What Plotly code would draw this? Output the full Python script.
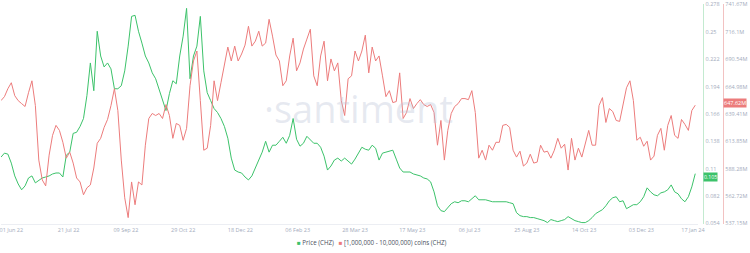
import plotly.graph_objects as go
import pandas as pd

# ---------------- data ----------------
start_date = "2022-05-23"
n_points = 203
dates = pd.date_range(start_date, periods=n_points, freq="3D")

price_chz = [
    0.1219, 0.1260, 0.1250, 0.1158, 0.1027, 0.0945, 0.0885, 0.0925, 0.1006, 0.1027,
    0.0956, 0.0986, 0.1006, 0.1016, 0.1027, 0.1047, 0.1057, 0.1057, 0.1016, 0.1239,
    0.1270, 0.1462, 0.1473, 0.1533, 0.1614, 0.1848, 0.2182, 0.1898, 0.2506, 0.2253,
    0.2141, 0.2182, 0.2121, 0.1918, 0.1918, 0.1949, 0.2101, 0.2354, 0.2658, 0.2669,
    0.2506, 0.2385, 0.2253, 0.2182, 0.2081, 0.2020, 0.1918, 0.1797, 0.1695, 0.1868,
    0.2000, 0.1969, 0.2253, 0.2456, 0.2740, 0.2020, 0.2253, 0.2354, 0.2658, 0.2101,
    0.1878, 0.1797, 0.1716, 0.1675, 0.1614, 0.1533, 0.1412, 0.1209, 0.1087, 0.1067,
    0.1057, 0.1016, 0.0986, 0.1027, 0.1108, 0.1189, 0.1270, 0.1381, 0.1270, 0.1341,
    0.1341, 0.1381, 0.1422, 0.1361, 0.1442, 0.1614, 0.1402, 0.1331, 0.1361, 0.1432,
    0.1391, 0.1361, 0.1361, 0.1320, 0.1229, 0.1087, 0.1128, 0.1189, 0.1209, 0.1179,
    0.1209, 0.1179, 0.1148, 0.1199, 0.1260, 0.1320, 0.1300, 0.1290, 0.1341, 0.1310,
    0.1189, 0.1260, 0.1270, 0.1280, 0.1290, 0.1199, 0.1108, 0.1067, 0.1067, 0.1067,
    0.1047, 0.1037, 0.1027, 0.1006, 0.0996, 0.0966, 0.0864, 0.0722, 0.0672, 0.0662,
    0.0702, 0.0743, 0.0763, 0.0753, 0.0773, 0.0773, 0.0763, 0.0793, 0.0824, 0.0783,
    0.0783, 0.0783, 0.0773, 0.0763, 0.0763, 0.0763, 0.0763, 0.0763, 0.0753, 0.0743,
    0.0651, 0.0621, 0.0611, 0.0611, 0.0601, 0.0601, 0.0591, 0.0581, 0.0570, 0.0550,
    0.0581, 0.0570, 0.0560, 0.0570, 0.0581, 0.0611, 0.0591, 0.0570, 0.0560, 0.0550,
    0.0550, 0.0570, 0.0601, 0.0641, 0.0662, 0.0682, 0.0722, 0.0773, 0.0804, 0.0814,
    0.0763, 0.0773, 0.0692, 0.0712, 0.0733, 0.0733, 0.0763, 0.0814, 0.0905, 0.0864,
    0.0834, 0.0824, 0.0854, 0.0864, 0.0885, 0.0935, 0.0864, 0.0844, 0.0793, 0.0763,
    0.0814, 0.0915, 0.1050,
]

holders_1m_10m = [
    651.9, 655.6, 663.0, 668.6, 656.5, 651.9, 649.1, 646.4, 659.3, 670.4,
    647.3, 596.4, 577.9, 572.3, 601.0, 619.5, 628.8, 624.1, 613.0, 598.2,
    603.8, 593.6, 579.7, 576.0, 564.0, 570.5, 573.2, 589.0, 612.1, 616.7,
    626.9, 634.3, 647.3, 663.0, 642.6, 596.4, 561.2, 542.7, 576.0, 554.7,
    576.0, 573.2, 610.3, 635.2, 639.9, 638.0, 639.9, 635.2, 648.2, 638.0,
    616.7, 630.6, 628.8, 614.9, 626.0, 665.8, 688.9, 698.2, 651.9, 605.6,
    607.5, 628.8, 670.4, 651.9, 668.6, 687.1, 701.9, 688.9, 702.8, 688.9,
    695.4, 703.7, 721.3, 702.8, 707.4, 716.7, 702.8, 705.6, 727.8, 712.1,
    694.5, 688.9, 665.8, 670.4, 693.6, 710.2, 679.7, 687.1, 700.0, 709.3,
    718.5, 675.0, 665.8, 693.6, 707.4, 670.4, 690.8, 679.7, 687.1, 651.9,
    638.0, 672.3, 675.0, 698.2, 688.9, 698.2, 713.0, 677.8, 701.9, 688.9,
    693.6, 675.0, 655.6, 661.2, 650.1, 651.0, 677.8, 635.2, 640.8, 653.8,
    644.5, 649.1, 652.8, 648.2, 646.4, 648.2, 640.8, 610.3, 633.4, 596.4,
    624.1, 639.9, 646.4, 649.1, 653.8, 653.8, 652.8, 661.2, 640.8, 598.2,
    605.6, 596.4, 610.3, 605.6, 613.0, 613.0, 628.8, 629.7, 626.9, 605.6,
    599.2, 604.7, 590.8, 593.6, 601.9, 593.6, 594.5, 610.3, 603.8, 604.7,
    598.2, 605.6, 616.7, 607.5, 611.2, 587.1, 616.7, 596.4, 607.5, 599.2,
    613.0, 624.1, 610.3, 610.3, 647.3, 654.7, 631.5, 644.5, 641.7, 633.4,
    632.5, 648.2, 663.9, 670.4, 651.9, 614.9, 617.7, 609.3, 614.0, 596.4,
    600.1, 619.5, 626.0, 605.6, 628.8, 638.0, 619.5, 616.7, 634.3, 629.7,
    624.1, 642.6, 647.62,
]

x_tick_dates = ["2022-06-01", "2022-07-21", "2022-09-09", "2022-10-29", "2022-12-18",
                "2023-02-06", "2023-03-28", "2023-05-17", "2023-07-06", "2023-08-25",
                "2023-10-14", "2023-12-03", "2024-01-17"]
x_tick_labels = ["01 Jun 22", "21 Jul 22", "09 Sep 22", "29 Oct 22", "18 Dec 22",
                 "06 Feb 23", "28 Mar 23", "17 May 23", "06 Jul 23", "25 Aug 23",
                 "14 Oct 23", "03 Dec 23", "17 Jan 24"]

price_ticks = [0.054, 0.082, 0.11, 0.138, 0.166, 0.194, 0.222, 0.25, 0.278]
price_tick_labels = ["0.054", "0.082", "0.11", "0.138", "0.166", "0.194", "0.222", "0.25", "0.278"]

holder_ticks = [537.15, 562.72, 588.28, 613.85, 639.41, 664.98, 690.54, 716.1, 741.67]
holder_tick_labels = ["537.15M", "562.72M", "588.28M", "613.85M", "639.41M",
                      "664.98M", "690.54M", "716.1M", "741.67M"]

series_names = ["Price (CHZ)", "[1,000,000 - 10,000,000) coins (CHZ)"]

# ---------------- style ----------------
W, H = 750, 253
GREEN = "#3cc26a"
RED = "#ec7c7c"
TICK_COLOR = "#a3abbc"
FONT = "Open Sans"

fig = go.Figure()

fig.add_trace(go.Scatter(x=dates, y=holders_1m_10m, mode="lines", yaxis="y2",
                         line=dict(color=RED, width=1), name=series_names[1]))
fig.add_trace(go.Scatter(x=dates, y=price_chz, mode="lines", yaxis="y",
                         line=dict(color=GREEN, width=1), name=series_names[0]))

plot_right = 705 / W
pos_price = 711 / W
pos_hold = 731 / W

p_pad = (price_ticks[-1] - price_ticks[0]) * 0.002
h_pad = (holder_ticks[-1] - holder_ticks[0]) * 0.002

fig.update_layout(
    width=W, height=H,
    margin=dict(l=0, r=0, t=3, b=29),
    paper_bgcolor="white", plot_bgcolor="white",
    font=dict(family=FONT, size=6, color=TICK_COLOR),
    showlegend=False,
    xaxis=dict(domain=[0, plot_right], type="date",
               range=["2022-05-23", "2024-01-21"],
               tickvals=x_tick_dates, ticktext=x_tick_labels,
               ticklabeloverflow="allow",
               showgrid=False, zeroline=False, showline=True, linecolor="#eceef3",
               linewidth=1, ticks="", tickfont=dict(size=5.5, color=TICK_COLOR)),
    yaxis=dict(side="right", anchor="free", position=pos_price,
               range=[price_ticks[0] - p_pad, price_ticks[-1] + p_pad],
               tickvals=price_ticks, ticktext=price_tick_labels,
               ticklabeloverflow="allow",
               showgrid=False, zeroline=False, showline=True,
               linecolor="#c3ead0", linewidth=1, ticks="",
               tickfont=dict(size=5.5, color=TICK_COLOR)),
    yaxis2=dict(side="right", anchor="free", position=pos_hold, overlaying="y",
                range=[holder_ticks[0] - h_pad, holder_ticks[-1] + h_pad],
                tickvals=holder_ticks, ticktext=holder_tick_labels,
                ticklabeloverflow="allow",
                showgrid=False, zeroline=False, showline=True,
                linecolor="#f2c2c2", linewidth=1, ticks="",
                tickfont=dict(size=5.5, color=TICK_COLOR)),
)

# watermark
fig.add_annotation(text="·santiment", xref="paper", yref="paper",
                   x=362 / W, y=(224 - 107) / 221, xanchor="center", yanchor="middle",
                   showarrow=False,
                   font=dict(family=FONT, size=38, color="rgba(185,192,214,0.35)"))

# legend drawn as text with coloured squares
legend_text = (f'<span style="color:{GREEN}">■</span> {series_names[0]}'
               f'&nbsp;&nbsp;&nbsp;<span style="color:{RED}">■</span> {series_names[1]}')
fig.add_annotation(text=legend_text, xref="paper", yref="paper",
                   x=376 / W, y=(224 - 243) / 221, xanchor="center", yanchor="middle",
                   showarrow=False,
                   font=dict(family=FONT, size=6.2, color="#4a4f5c"))

# last-value badges
fig.add_annotation(text=f"{price_chz[-1]:.3f}", xref="paper", yref="y",
                   x=pos_price, y=price_chz[-1], xanchor="left", yanchor="middle",
                   yshift=-3.5,
                   showarrow=False, bgcolor=GREEN, borderpad=0,
                   font=dict(family=FONT, size=5.2, color="white"))
fig.add_annotation(text=f"{holders_1m_10m[-1]:.2f}M", xref="paper", yref="y2",
                   x=pos_hold, y=holders_1m_10m[-1], xanchor="left", yanchor="middle",
                   yshift=2,
                   showarrow=False, bgcolor=RED, borderpad=0,
                   font=dict(family=FONT, size=5.5, color="white"))

fig.write_html("out.html", config={"displayModeBar": False})
